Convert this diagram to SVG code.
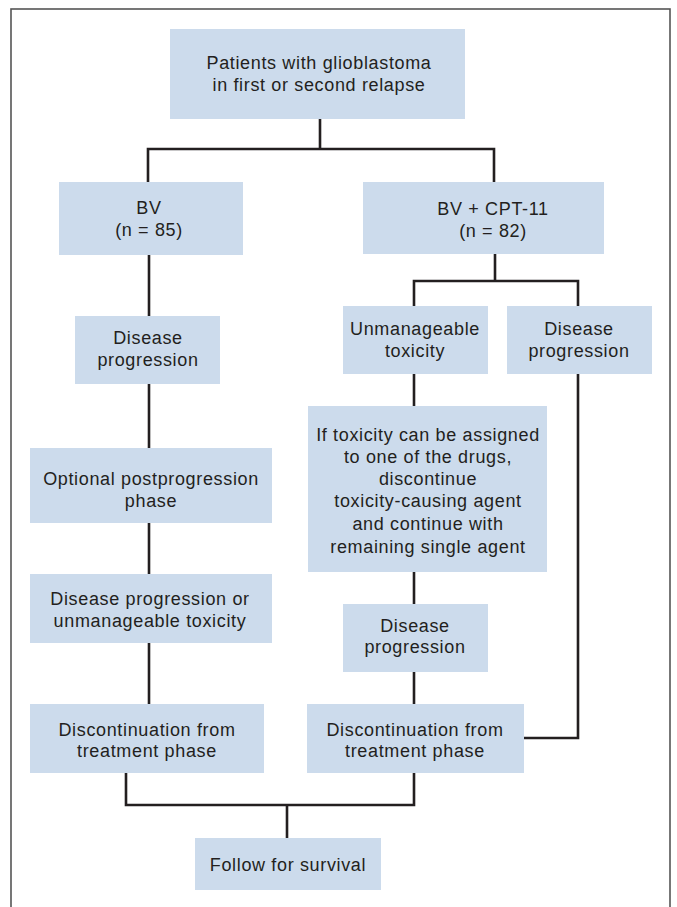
<svg xmlns="http://www.w3.org/2000/svg" width="677" height="907" viewBox="0 0 677 907">
<style>
.box{fill:#ccdbec;}
.t{font-family:"Liberation Sans",Arial,Helvetica,sans-serif;font-size:18px;letter-spacing:0.65px;fill:#231f20;text-anchor:middle;}
.c{fill:none;stroke:#231f20;stroke-width:2.6;stroke-linecap:butt;stroke-linejoin:miter;}
</style>
<rect x="0" y="0" width="677" height="907" fill="#ffffff"/>
<rect x="11" y="9" width="659" height="910" fill="none" stroke="#555555" stroke-width="1.6"/>
<g id="connectors">
<path class="c" d="M320 119 V149"/>
<path class="c" d="M148 182 V149 H494 V182"/>
<path class="c" d="M149 255 V316"/>
<path class="c" d="M149 384 V448"/>
<path class="c" d="M149 523 V574"/>
<path class="c" d="M149 643 V704"/>
<path class="c" d="M126 773 V805 H414 V773"/>
<path class="c" d="M287 805 V838"/>
<path class="c" d="M495 254 V281"/>
<path class="c" d="M414 306 V281 H578 V306"/>
<path class="c" d="M414 374 V406"/>
<path class="c" d="M414 572 V604"/>
<path class="c" d="M414 672 V704"/>
<path class="c" d="M578 374 V738 H524"/>
</g>
<g id="n-patients">
<rect class="box" x="170" y="29" width="295" height="90"/>
<text class="t" x="319" y="69">Patients with glioblastoma</text>
<text class="t" x="319" y="91">in first or second relapse</text>
</g>
<g id="n-bv">
<rect class="box" x="59" y="182" width="184" height="73"/>
<text class="t" x="149" y="214">BV</text>
<text class="t" x="149" y="236">(n = 85)</text>
</g>
<g id="n-bvcpt">
<rect class="box" x="363" y="182" width="241" height="72"/>
<text class="t" x="493" y="215">BV + CPT-11</text>
<text class="t" x="493" y="237">(n = 82)</text>
</g>
<g id="n-left-progression">
<rect class="box" x="75" y="316" width="145" height="68"/>
<text class="t" x="148" y="344">Disease</text>
<text class="t" x="148" y="366">progression</text>
</g>
<g id="n-optional">
<rect class="box" x="30" y="448" width="242" height="75"/>
<text class="t" x="151" y="485">Optional postprogression</text>
<text class="t" x="151" y="507">phase</text>
</g>
<g id="n-left-progression-tox">
<rect class="box" x="30" y="574" width="242" height="69"/>
<text class="t" x="150" y="605">Disease progression or</text>
<text class="t" x="150" y="627">unmanageable toxicity</text>
</g>
<g id="n-left-discontinuation">
<rect class="box" x="30" y="704" width="234" height="69"/>
<text class="t" x="147" y="736">Discontinuation from</text>
<text class="t" x="147" y="757">treatment phase</text>
</g>
<g id="n-unmanageable">
<rect class="box" x="343" y="306" width="145" height="68"/>
<text class="t" x="415" y="335">Unmanageable</text>
<text class="t" x="415" y="357">toxicity</text>
</g>
<g id="n-right-progression">
<rect class="box" x="507" y="306" width="145" height="68"/>
<text class="t" x="579" y="335">Disease</text>
<text class="t" x="579" y="357">progression</text>
</g>
<g id="n-if-toxicity">
<rect class="box" x="308" y="406" width="239" height="166"/>
<text class="t" x="428" y="441">If toxicity can be assigned</text>
<text class="t" x="428" y="463">to one of the drugs,</text>
<text class="t" x="428" y="485">discontinue</text>
<text class="t" x="428" y="507">toxicity-causing agent</text>
<text class="t" x="428" y="530">and continue with</text>
<text class="t" x="428" y="553">remaining single agent</text>
</g>
<g id="n-mid-progression">
<rect class="box" x="343" y="604" width="145" height="68"/>
<text class="t" x="415" y="632">Disease</text>
<text class="t" x="415" y="653">progression</text>
</g>
<g id="n-right-discontinuation">
<rect class="box" x="307" y="704" width="217" height="69"/>
<text class="t" x="415" y="736">Discontinuation from</text>
<text class="t" x="415" y="757">treatment phase</text>
</g>
<g id="n-follow">
<rect class="box" x="195" y="838" width="186" height="52"/>
<text class="t" x="288" y="871">Follow for survival</text>
</g>
</svg>
